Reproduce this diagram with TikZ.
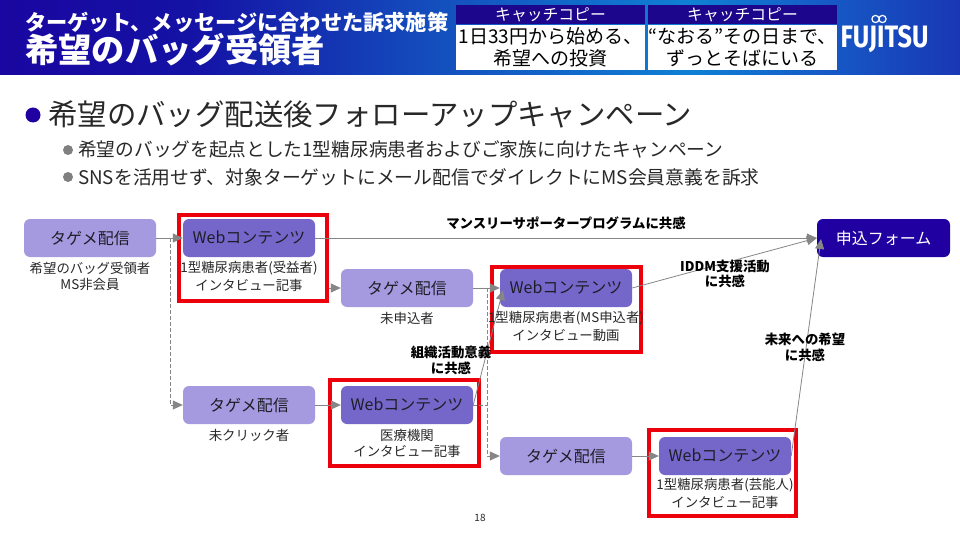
\documentclass[tikz,border=0pt]{standalone}
\usepackage{fontspec}
\usepackage{graphicx}
\setmainfont{Noto Sans CJK JP}
\newfontfamily\logofont{Fira Sans}
\usetikzlibrary{arrows.meta}
\definecolor{tagfill}{RGB}{165,154,223}
\definecolor{webfill}{RGB}{117,102,201}
\definecolor{navy}{RGB}{32,0,160}
\definecolor{capnavy}{RGB}{28,6,140}
\definecolor{framered}{RGB}{236,0,12}
\definecolor{lnk}{RGB}{134,134,134}
\definecolor{ink}{RGB}{30,30,40}
\definecolor{subtxt}{RGB}{40,40,40}
\definecolor{hdrA}{RGB}{26,6,160}
\definecolor{hdrB}{RGB}{20,18,165}
\definecolor{hdrC}{RGB}{20,80,190}
\definecolor{hdrD}{RGB}{15,128,212}
\definecolor{hdrE}{RGB}{22,90,198}
\definecolor{hdrF}{RGB}{25,55,180}
\pgfdeclarehorizontalshading{hdr}{100bp}{color(0bp)=(hdrA);
 color(25bp)=(hdrA);
 color(35bp)=(hdrB);
 color(48bp)=(hdrC);
 color(61bp)=(hdrD);
 color(68bp)=(hdrE);
 color(75bp)=(hdrF);
 color(100bp)=(hdrF)}
\newcommand{\fs}[1]{\fontsize{#1}{#1}\selectfont}
\tikzset{
  x=1pt,y=-1pt,
  flowbox/.style={rounded corners=6pt,minimum width=132pt,minimum height=38pt,inner sep=0pt,font=\fs{16},text=ink},
  tagbox/.style={flowbox,fill=tagfill},
  webbox/.style={flowbox,fill=webfill},
  formbox/.style={flowbox,fill=navy,text=white,minimum width=133pt},
  caption/.style={font=\fs{13.4},text=subtxt,align=center,inner sep=0pt,text depth=0pt},
  boldlabel/.style={font=\fs{13.4}\bfseries,text=black,align=center,inner sep=0pt},
  link/.style={draw=lnk,line width=0.8pt,-{Triangle[length=10pt,width=9pt,fill=lnk]}},
  dashlink/.style={link,dash pattern=on 4pt off 2pt},
  dashplain/.style={draw=lnk,line width=0.8pt,dash pattern=on 4pt off 2pt},
  redframe/.style={draw=framered,line width=4pt},
  capbar/.style={fill=capnavy,text=white,minimum width=189pt,minimum height=19pt,inner sep=0pt,font=\fs{15.8}},
  capbody/.style={fill=white,text=black,minimum width=189pt,minimum height=45pt,inner sep=0pt,align=center,font=\fs{19}},
}
\begin{document}
\begin{tikzpicture}
\useasboundingbox (0,0) rectangle (960,540);
\fill[white] (0,0) rectangle (960,540);
\shade[shading=hdr] (0,0) rectangle (960,74.5);
% header
\node[anchor=west,text=white,inner sep=0pt,font=\fs{21.2}\bfseries] (subtitle) at (25,22) {ターゲット、メッセージに合わせた訴求施策};
\node[anchor=west,text=white,inner sep=0pt,font=\fs{33.3}\bfseries] (title) at (25,50) {希望のバッグ受領者};
\node[capbar] (cap1h) at (550.5,14.5) {キャッチコピー};
\node[capbody] (cap1b) at (550.5,47.5) {1日33円から始める、\\[3pt]希望への投資};
\node[capbar] (cap2h) at (742.5,14.5) {キャッチコピー};
\node[capbody] (cap2b) at (742.5,47.5) {“なおる”その日まで、\\[3pt]ずっとそばにいる};
\node[text=white,inner sep=0pt] (logo) at (884.5,39) {\resizebox{88pt}{22pt}{\logofont\bfseries FUJITSU}};
\draw[white,line width=1.2pt] (875.5,19) circle[radius=3.6pt] (882.5,19) circle[radius=3.6pt];
% headings
\fill[navy] (33,115) circle[radius=7.5pt];
\node[anchor=west,inner sep=0pt,text=subtxt,font=\fs{29.4}] (h1) at (48,114) {希望のバッグ配送後フォローアップキャンペーン};
\fill[gray] (68,150) circle[radius=5pt];
\node[anchor=west,inner sep=0pt,text=subtxt,font=\fs{18.7}] (h2) at (78,149) {希望のバッグを起点とした1型糖尿病患者およびご家族に向けたキャンペーン};
\fill[gray] (68,177) circle[radius=5pt];
\node[anchor=west,inner sep=0pt,text=subtxt,font=\fs{18.8}] (h3) at (78,177) {SNSを活用せず、対象ターゲットにメール配信でダイレクトにMS会員意義を訴求};
% boxes
\node[tagbox] (tag1) at (90,238) {タゲメ配信};
\node[webbox] (web1) at (249,238) {Webコンテンツ};
\node[tagbox] (tag2) at (407,288) {タゲメ配信};
\node[webbox] (web2) at (566,288) {Webコンテンツ};
\node[tagbox] (tag3) at (249,405) {タゲメ配信};
\node[webbox] (web3) at (407,405) {Webコンテンツ};
\node[tagbox] (tag4) at (566,456) {タゲメ配信};
\node[webbox] (web4) at (725,456) {Webコンテンツ};
\node[formbox] (form) at (883.5,238) {申込フォーム};
% connector helpers
\coordinate (j1) at (170,238);
\coordinate (w1out) at (329,288);
\coordinate (j2) at (487,288);
\coordinate (j3) at (487,405);
\coordinate (web2in) at (503,290);
\coordinate (formin) at (821,239);
% frames
\draw[redframe] (179,215) rectangle (327,301);
\draw[redframe] (492,267) rectangle (641,352);
\draw[redframe] (330,380) rectangle (479,466);
\draw[redframe] (649,430) rectangle (796,516);
% connectors
\draw[link] (tag1.east) -- (web1.west);
\draw[link] (web1.east) -- (form.west);
\draw[link] (w1out) -- (tag2.west);
\draw[link] (tag2.east) -- (web2.west);
\draw[link] (tag3.east) -- (web3.west);
\draw[link] (tag4.east) -- (web4.west);
\draw[link] (web2.east) -- (form.west);
\draw[link] (web4.east) -- (formin);
\draw[link] (web3.east) -- (web2in);
\draw[dashlink] (j1) |- (tag3.west);
\draw[dashplain] (web3.east) -- (j3);
\draw[dashlink] (j2) |- (tag4.west);
% captions
\node[caption] (c1) at (90,276) {希望のバッグ受領者\\[2.6pt]MS非会員};
\node[caption] (c2) at (249,276) {1型糖尿病患者(受益者)\\[2.6pt]インタビュー記事};
\node[caption] (c3) at (407,318) {未申込者};
\node[caption] (c4) at (566,326) {1型糖尿病患者(MS申込者)\\[2.6pt]インタビュー動画};
\node[caption] (c5) at (249,435) {未クリック者};
\node[caption] (c6) at (407,443) {医療機関\\[2.6pt]インタビュー記事};
\node[caption] (c7) at (725,493) {1型糖尿病患者(芸能人)\\[2.6pt]インタビュー記事};
% labels
\node[boldlabel] (l1) at (566,223) {マンスリーサポータープログラムに共感};
\node[boldlabel] (l2) at (725,274) {IDDM支援活動\\[2pt]に共感};
\node[boldlabel] (l3) at (451,360.5) {組織活動意義\\[2pt]に共感};
\node[boldlabel] (l4) at (805,347.5) {未来への希望\\[2pt]に共感};
\node[font=\fs{10},text=subtxt,inner sep=0pt] (page) at (480,518) {18};
\end{tikzpicture}
\end{document}
